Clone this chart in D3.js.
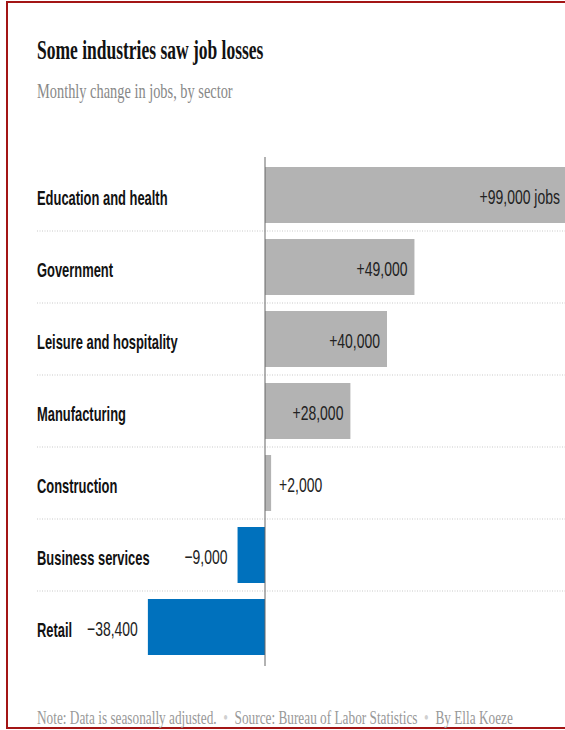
<!DOCTYPE html>
<html>
<head>
<meta charset="utf-8">
<script src="https://cdn.jsdelivr.net/npm/d3@7"></script>
<style>
  html, body { margin: 0; padding: 0; background: #fff; }
  svg { display: block; }
</style>
</head>
<body>
<script>
// ---- data ----
const categories = ["Education and health", "Government", "Leisure and hospitality", "Manufacturing", "Construction", "Business services", "Retail"];
const values = [99000, 49000, 40000, 28000, 2000, -9000, -38400];
const unitSuffix = [" jobs", "", "", "", "", "", ""];
const titleText = "Some industries saw job losses";
const subtitleText = "Monthly change in jobs, by sector";
const footerParts = ["Note: Data is seasonally adjusted.", "Source: Bureau of Labor Statistics", "By Ella Koeze"];

// ---- layout ----
const W = 565, H = 730;
const labelX = 37;
const SANS = "'Liberation Sans', Arial, sans-serif";
const SERIF = "'Liberation Serif', 'Times New Roman', serif";

const svg = d3.select("body").append("svg")
  .attr("width", W).attr("height", H)
  .attr("viewBox", `0 0 ${W} ${H}`);

// frame
svg.append("rect")
  .attr("x", 7).attr("y", 2).attr("width", 640).attr("height", 726)
  .attr("fill", "none").attr("stroke", "#a31515").attr("stroke-width", 2);

// title & subtitle
svg.append("text")
  .attr("transform", `translate(${labelX},59) scale(0.625,1)`)
  .attr("font-family", SERIF).attr("font-weight", "bold").attr("font-size", 28)
  .attr("fill", "#121212").text(titleText);

svg.append("text")
  .attr("transform", `translate(${labelX},98) scale(0.685,1)`)
  .attr("font-family", SERIF).attr("font-size", 21)
  .attr("fill", "#888").text(subtitleText);

// scales
const x = d3.scaleLinear().domain([-40000, 100000]).range([143, 570]);
const y = d3.scaleBand().domain(categories).range([159, 663])
  .paddingInner(2 / 9).paddingOuter(1 / 9);
const bw = y.bandwidth();
const gap = y.step() - bw;

const data = categories.map((c, i) => ({ cat: c, v: values[i], suffix: unitSuffix[i] }));
const fmt = d3.format(",");
const labelOf = d => (d.v >= 0 ? "+" : "\u2212") + fmt(Math.abs(d.v)) + d.suffix;

// dotted separators
svg.append("g").selectAll("line")
  .data(categories.slice(0, -1))
  .join("line")
  .attr("x1", labelX).attr("x2", W)
  .attr("y1", c => y(c) + bw + gap / 2).attr("y2", c => y(c) + bw + gap / 2)
  .attr("stroke", "#c9c9c9").attr("stroke-width", 1)
  .attr("stroke-dasharray", "1,1.5");

// bars
svg.append("g").selectAll("rect")
  .data(data)
  .join("rect")
  .attr("x", d => x(Math.min(0, d.v)))
  .attr("y", d => y(d.cat))
  .attr("width", d => Math.abs(x(d.v) - x(0)))
  .attr("height", bw)
  .attr("fill", d => d.v >= 0 ? "#b3b3b3" : "#0071bd");

// zero axis
svg.append("line")
  .attr("x1", x(0)).attr("x2", x(0))
  .attr("y1", y.range()[0] - 2).attr("y2", y.range()[1] + 3)
  .attr("stroke", "#666").attr("stroke-width", 1);

// category labels
svg.append("g").selectAll("text")
  .data(data)
  .join("text")
  .attr("transform", d => `translate(${labelX},${y(d.cat) + bw / 2 + 10}) scale(0.615,1)`)
  .attr("font-family", SANS).attr("font-weight", "bold").attr("font-size", 21)
  .attr("fill", "#121212")
  .text(d => d.cat);

// value labels
const sxVal = 0.665;
svg.append("g").selectAll("text")
  .data(data)
  .join("text")
  .each(function (d) {
    const t = d3.select(this);
    const barW = Math.abs(x(d.v) - x(0));
    let px, anchor;
    if (d.v < 0) { px = x(d.v) - 10; anchor = "end"; }
    else if (barW > 60) { px = x(d.v) - 7; anchor = "end"; }
    else { px = x(d.v) + 8; anchor = "start"; }
    t.attr("transform", `translate(${px},${y(d.cat) + bw / 2 + 9}) scale(${sxVal},1)`)
      .attr("text-anchor", anchor);
  })
  .attr("font-family", SANS).attr("font-size", 21)
  .attr("fill", "#222")
  .text(labelOf);

// footer
const foot = svg.append("text")
  .attr("transform", `translate(${labelX},724) scale(0.70,1)`)
  .attr("font-family", SERIF).attr("font-size", 19)
  .attr("fill", "#999");
footerParts.forEach((p, i) => {
  if (i > 0) {
    foot.append("tspan").attr("fill", "#d0d0d0").text("\u00a0\u00a0\u2022\u00a0\u00a0");
  }
  foot.append("tspan").text(p);
});
</script>
</body>
</html>
